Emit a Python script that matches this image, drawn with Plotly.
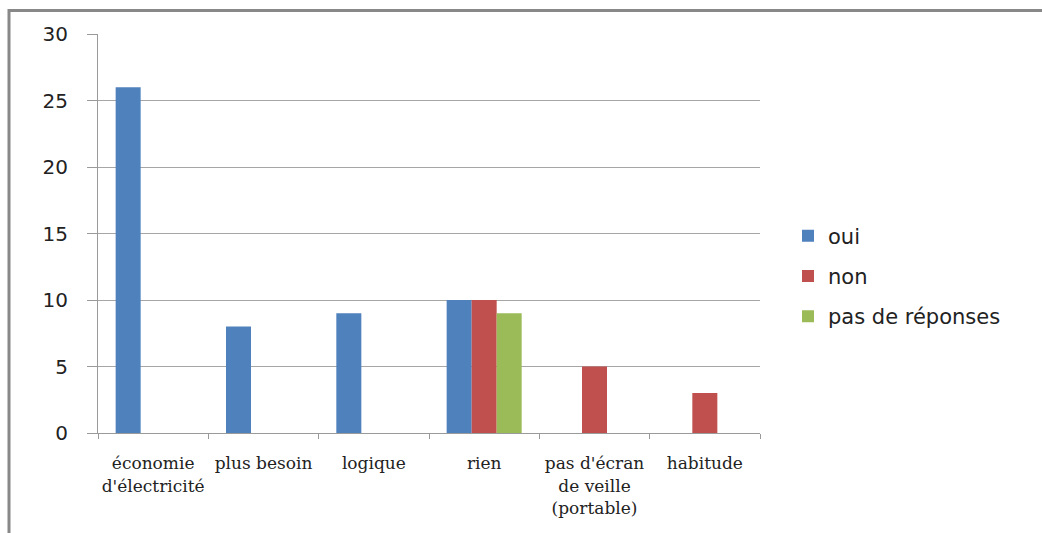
import plotly.graph_objects as go

# Categories and answer counts
categories = [
    "économie<br>d'électricité",
    "plus besoin",
    "logique",
    "rien",
    "pas d'écran<br>de veille<br>(portable)",
    "habitude",
]
oui = [26, 8, 9, 10, 0, 0]
non = [0, 0, 0, 10, 5, 3]
pas_de_reponses = [0, 0, 0, 9, 0, 0]

series = [
    ("oui", oui, "#4F81BD"),
    ("non", non, "#C0504D"),
    ("pas de réponses", pas_de_reponses, "#9BBB59"),
]

fig = go.Figure()
for name, vals, color in series:
    fig.add_trace(go.Bar(name=name, x=categories, y=vals, marker_color=color,
                         marker_line_width=0, legendgroup=name))

W, H = 1042, 533
ml, mr, mt, mb = 98, 282, 34, 100
pw, ph = W - ml - mr, H - mt - mb

fig.update_layout(
    width=W, height=H,
    margin=dict(l=ml, r=mr, t=mt, b=mb, autoexpand=False),
    paper_bgcolor="white", plot_bgcolor="white",
    barmode="group", bargap=0.32, bargroupgap=0,
    showlegend=True,
    legend=dict(
        x=(788 - ml) / pw, xanchor="left",
        y=(H - mb - 276) / ph, yanchor="middle",
        font=dict(family="DejaVu Sans", size=21, color="#222222"),
        itemsizing="constant", tracegroupgap=10, traceorder="grouped",
        bgcolor="rgba(0,0,0,0)",
    ),
    xaxis=dict(
        showgrid=False, showline=True, linecolor="#9a9a9a", linewidth=1,
        ticks="outside", ticklen=5, tickcolor="#9a9a9a", tickson="boundaries",
        tickfont=dict(family="DejaVu Serif", size=17, color="#222222"),
        ticklabelstandoff=15, tickangle=0, automargin=False,
        range=[-0.5, 5.5],
    ),
    yaxis=dict(
        range=[0, 30], dtick=5, showgrid=True, gridcolor="#a6a6a6", gridwidth=1,
        showline=True, linecolor="#9a9a9a", linewidth=1,
        ticks="outside", ticklen=10, tickcolor="#9a9a9a",
        tickfont=dict(family="DejaVu Sans", size=20, color="#222222"),
        ticklabelstandoff=15, zeroline=False, automargin=False,
    ),
    shapes=[
        dict(type="rect", xref="paper", yref="paper",
             x0=(9 - ml) / pw, x1=(W + 20 - ml) / pw,
             y0=(H - mb - (H + 20)) / ph, y1=(H - mb - 10.5) / ph,
             line=dict(color="#888888", width=3), fillcolor="rgba(0,0,0,0)",
             layer="below"),
    ],
)

fig.write_html("out.html")
